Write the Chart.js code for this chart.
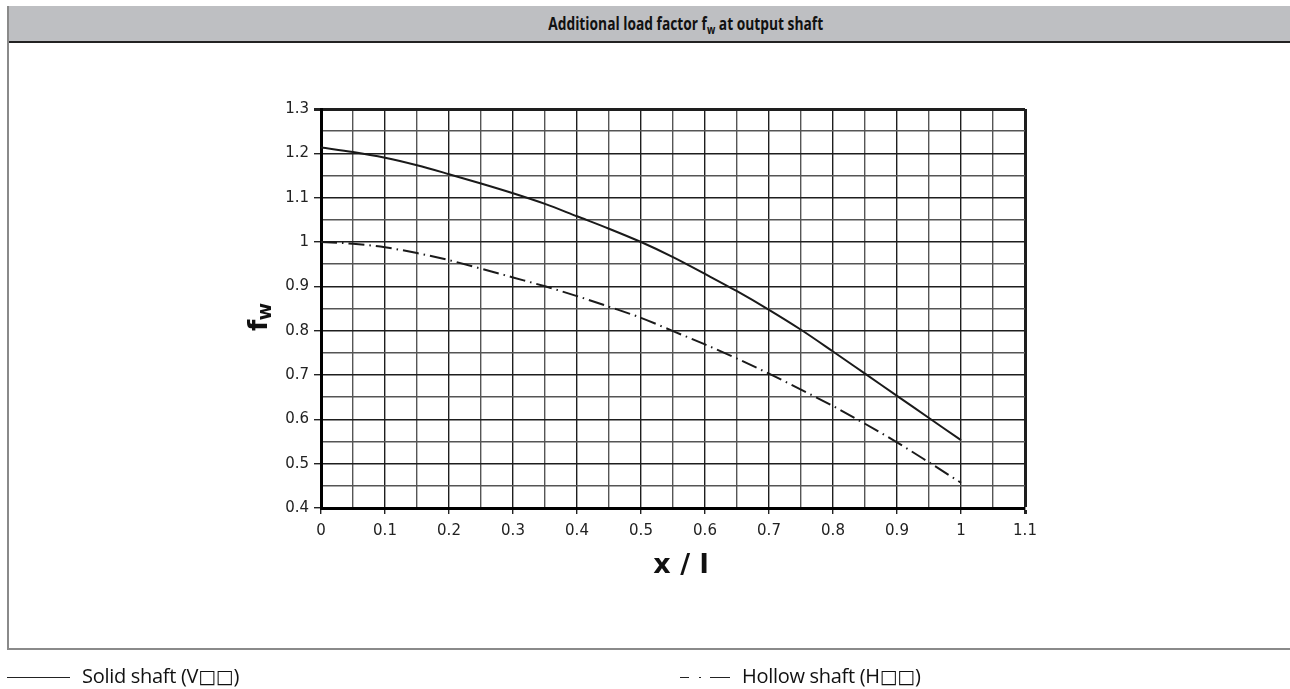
<!DOCTYPE html>
<html>
<head>
<meta charset="utf-8">
<script src="https://cdn.jsdelivr.net/npm/chart.js@4"></script>
<style>
  html, body { margin: 0; padding: 0; background: #fff; }
  body { width: 1290px; height: 689px; position: relative; overflow: hidden; font-family: "Open Sans", "Noto Sans", sans-serif; color: #111; }
  #frame { position: absolute; left: 7px; top: 6px; width: 1283px; height: 642px; border-left: 2px solid #8a8a8a; border-bottom: 2px solid #8a8a8a; }
  #head { position: absolute; left: 9px; top: 6px; width: 1281px; height: 35px; background: #bebfc2; border-bottom: 2px solid #222;
          text-align: center; line-height: 35px; }
  #head span { display: inline-block; font-weight: 700; font-size: 17px; transform: scaleX(0.81); margin-left: 72px; }
  #head sub { font-size: 12px; vertical-align: -4px; line-height: 0; }
  #chartBox { position: absolute; left: 0; top: 0; width: 1290px; height: 689px; }
  .leg { position: absolute; top: 663px; font-size: 20px; line-height: 26px; white-space: nowrap; letter-spacing: -0.3px; }
  .leg .ln { display: inline-block; vertical-align: middle; height: 0; border-top: 1px solid #222; }
  .leg .bx { font-family: "DejaVu Sans", sans-serif; font-size: 19px; }
</style>
</head>
<body>
<div id="frame"></div>
<div id="head"><span>Additional load factor f<sub>w</sub> at output shaft</span></div>
<div id="chartBox"><canvas id="fwChart" width="1290" height="689"></canvas></div>
<div class="leg" style="left:7px"><span class="ln" style="width:63px"></span><span style="margin-left:12px">Solid shaft (V<span class="bx">□□</span>)</span></div>
<div class="leg" style="left:680px"><span class="ln" style="width:9px"></span><span class="ln" style="width:2px;margin-left:10px"></span><span class="ln" style="width:20px;margin-left:9px"></span><span style="margin-left:12px">Hollow shaft (H<span class="bx">□□</span>)</span></div>
<script>
// ----------------------------
// Daten
// ----------------------------
const xPos = [0, 0.05, 0.1, 0.15, 0.2, 0.25, 0.3, 0.35, 0.4, 0.45, 0.5, 0.55, 0.6, 0.65, 0.7, 0.75, 0.8, 0.85, 0.9, 0.95, 1.0];
const solidShaft  = [1.213, 1.203, 1.19, 1.173, 1.153, 1.132, 1.11, 1.086, 1.058, 1.03, 1.0, 0.966, 0.928, 0.889, 0.847, 0.802, 0.753, 0.703, 0.653, 0.603, 0.553];
const hollowShaft = [1.0, 0.996, 0.988, 0.975, 0.959, 0.94, 0.92, 0.9, 0.878, 0.854, 0.829, 0.799, 0.769, 0.737, 0.703, 0.667, 0.63, 0.59, 0.548, 0.503, 0.457];
const xRange = [0, 1.1];
const yRange = [0.4, 1.3];
const xTitle = "x / l";
const yTitleMain = "f";
const yTitleSub = "w";

const toPoints = (ys) => xPos.map((x, i) => ({ x: x, y: ys[i] }));
const isMajor = (v) => Math.round(v * 100) % 10 === 0;
const tickFont = { family: "DejaVu Sans", size: 15 };

// ----------------------------
// Achsentitel (f_w mit Index, x / l)
// ----------------------------
const axisTitlePlugin = {
  id: "axisTitles",
  afterDraw(chart) {
    const ctx = chart.ctx;
    const area = chart.chartArea;
    ctx.save();
    ctx.fillStyle = "#111";
    ctx.textBaseline = "middle";
    // x-Titel
    ctx.font = "bold 27px 'DejaVu Sans'";
    ctx.textAlign = "center";
    ctx.fillText(xTitle, (area.left + area.right) / 2 + 8, 566);
    // y-Titel
    ctx.textAlign = "left";
    ctx.translate(260, (area.top + area.bottom) / 2 + 8);
    ctx.rotate(-Math.PI / 2);
    ctx.font = "bold 26px 'DejaVu Sans'";
    const w1 = ctx.measureText(yTitleMain).width;
    ctx.font = "bold 19px 'DejaVu Sans'";
    const w2 = ctx.measureText(yTitleSub).width;
    const start = -(w1 + w2) / 2;
    ctx.font = "bold 26px 'DejaVu Sans'";
    ctx.fillText(yTitleMain, start, 0);
    ctx.font = "bold 19px 'DejaVu Sans'";
    ctx.fillText(yTitleSub, start + w1 - 1, 6);
    ctx.restore();
  }
};

// ----------------------------
// Chart
// ----------------------------
new Chart(document.getElementById("fwChart"), {
  type: "line",
  data: {
    datasets: [
      {
        label: "Solid shaft",
        data: toPoints(solidShaft),
        borderColor: "#1a1a1a",
        borderWidth: 2,
        pointRadius: 0,
        cubicInterpolationMode: "monotone",
        fill: false
      },
      {
        label: "Hollow shaft",
        data: toPoints(hollowShaft),
        borderColor: "#1a1a1a",
        borderWidth: 2,
        borderDash: [16, 5, 1.5, 5],
        pointRadius: 0,
        cubicInterpolationMode: "monotone",
        fill: false
      }
    ]
  },
  options: {
    responsive: false,
    animation: false,
    layout: { padding: { left: 271, right: 265, top: 109, bottom: 104 } },
    plugins: {
      legend: { display: false },
      tooltip: { enabled: false }
    },
    scales: {
      x: {
        type: "linear",
        min: xRange[0],
        max: xRange[1],
        afterFit: (s) => { s.height = 77; },
        ticks: {
          stepSize: 0.05,
          autoSkip: false,
          maxRotation: 0,
          padding: 8,
          color: "#222",
          font: tickFont,
          callback: (v) => isMajor(v) ? String(Math.round(v * 10) / 10) : ""
        },
        grid: {
          color: (c) => isMajor(c.tick.value) ? "#1e1e1e" : "#555",
          lineWidth: (c) => Math.abs(c.tick.value - xRange[1]) < 1e-6 ? 3 : 1.4,
          tickLength: 6,
          tickColor: (c) => isMajor(c.tick.value) ? "#222" : "rgba(0,0,0,0)"
        },
        border: { color: "#000", width: 3 }
      },
      y: {
        type: "linear",
        min: yRange[0],
        max: yRange[1],
        afterFit: (s) => { s.width = 50; },
        ticks: {
          stepSize: 0.05,
          autoSkip: false,
          padding: 5,
          color: "#222",
          font: tickFont,
          callback: (v) => isMajor(v) ? String(Math.round(v * 10) / 10) : ""
        },
        grid: {
          color: (c) => isMajor(c.tick.value) ? "#1e1e1e" : "#555",
          lineWidth: (c) => Math.abs(c.tick.value - yRange[1]) < 1e-6 ? 3 : 1.4,
          tickLength: 7,
          tickColor: (c) => isMajor(c.tick.value) ? "#222" : "rgba(0,0,0,0)"
        },
        border: { color: "#000", width: 3 }
      }
    }
  },
  plugins: [axisTitlePlugin]
});
</script>
</body>
</html>
